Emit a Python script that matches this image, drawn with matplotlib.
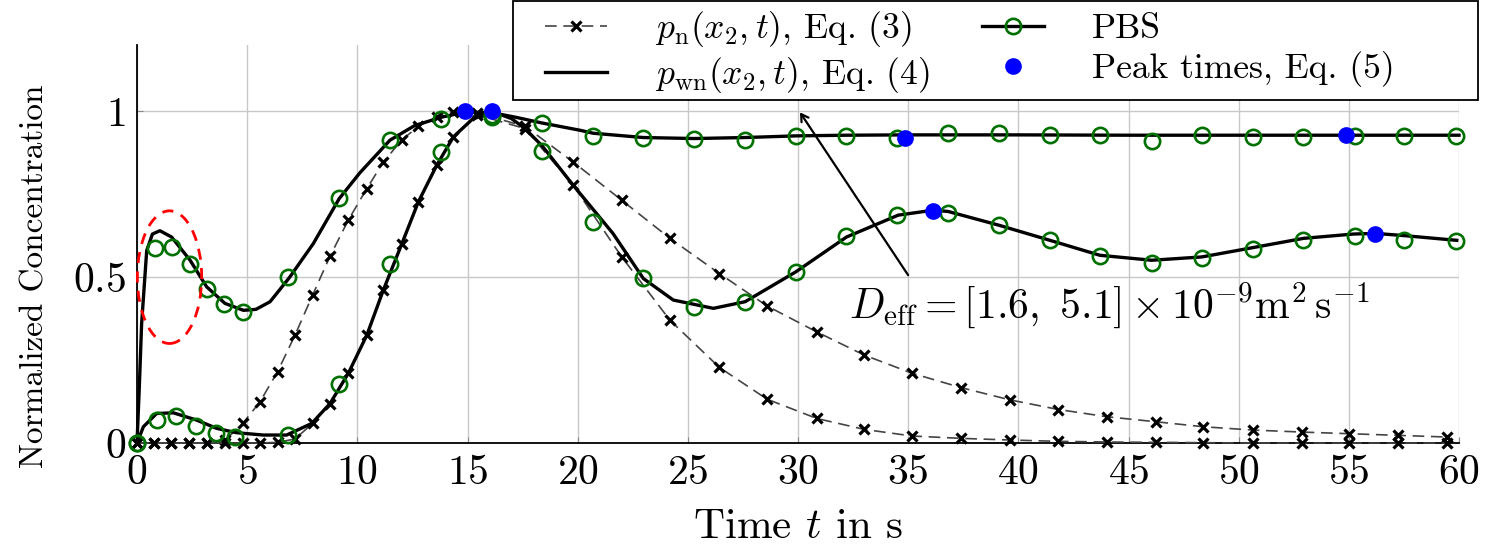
import numpy as np
import matplotlib
matplotlib.use("Agg")
import matplotlib.pyplot as plt
from matplotlib.lines import Line2D
from matplotlib.patches import Ellipse, Rectangle

plt.rcParams['font.family'] = 'serif'
plt.rcParams['font.serif'] = ['cmr10', 'DejaVu Serif']
plt.rcParams['mathtext.fontset'] = 'cm'
plt.rcParams['axes.formatter.use_mathtext'] = True

# ---- data ----
# p_n(x2,t), Eq. (3): two diffusion coefficients (markers on the line)
t_n = [0, 0.77, 1.53, 2.37, 3.19, 3.99, 4.80, 5.58, 6.38, 7.17, 7.97, 8.76, 9.59,
       10.43, 11.18, 12.01, 12.77, 13.6, 14.36, 15.42, 17.61, 19.8, 22.0, 24.19,
       26.43, 28.6, 30.85, 33.01, 35.19, 37.4, 39.62, 41.82, 44.04, 46.25, 48.4,
       50.64, 52.86, 55.03, 57.25, 59.45]
pn_fast = [0, 0, 0, 0, 0, 0.008, 0.059, 0.124, 0.215, 0.325, 0.446, 0.563, 0.672,
           0.767, 0.847, 0.913, 0.955, 0.983, 0.998, 0.995, 0.955, 0.847, 0.732, 0.617,
           0.511, 0.413, 0.335, 0.265, 0.21, 0.167, 0.13, 0.101, 0.079, 0.064, 0.049,
           0.039, 0.033, 0.028, 0.023, 0.018]
pn_slow = [0, 0, 0, 0, 0, 0, 0, 0, 0.002, 0.012, 0.059, 0.119, 0.21,
           0.325, 0.461, 0.599, 0.727, 0.837, 0.923, 0.99, 0.948, 0.777, 0.561, 0.37,
           0.228, 0.132, 0.074, 0.041, 0.021, 0.014, 0.009, 0.005, 0.003, 0.002, 0.001,
           0, 0, 0, 0, 0]

# p_wn(x2,t), Eq. (4)
t_wn1 = [0, 0.1, 0.21, 0.44, 0.7, 1.04, 1.57, 2.41, 3.16, 3.99, 4.83, 5.4, 6.04, 6.92,
         8.0, 9.18, 10.12, 11.48, 12.6, 13.8, 14.9, 16.1, 17.2, 18.37, 20.1, 20.7,
         22.98, 25.3, 27.6, 29.9, 32.2, 35, 40, 45, 50, 55, 60]
pwn1 = [0, 0.16, 0.36, 0.58, 0.63, 0.64, 0.621, 0.551, 0.471, 0.421, 0.40, 0.403,
        0.426, 0.499, 0.601, 0.737, 0.815, 0.913, 0.957, 0.982, 0.998, 0.996, 0.982,
        0.965, 0.943, 0.934, 0.921, 0.918, 0.921, 0.926, 0.928, 0.929, 0.929, 0.928,
        0.928, 0.928, 0.928]
t_wn2 = [0, 0.29, 0.89, 1.65, 2.71, 3.62, 4.52, 5.73, 6.79, 7.93, 8.76, 9.59, 10.43,
         11.18, 12.01, 12.77, 13.6, 14.36, 15.2, 16.1, 17.0, 17.61, 18.4, 19.8, 21.6,
         22.98, 24.34, 26.16, 27.6, 29.9, 32.2, 34.55, 36.14, 36.82, 39.1, 41.44, 43.7,
         46.05, 48.33, 50.64, 52.94, 55.2, 56.2, 57.56, 59.9]
pwn2 = [0, 0.049, 0.089, 0.091, 0.069, 0.044, 0.031, 0.024, 0.024, 0.059, 0.119, 0.21,
        0.325, 0.461, 0.599, 0.727, 0.837, 0.923, 0.975, 1.0, 0.978, 0.948, 0.895, 0.777,
        0.632, 0.496, 0.431, 0.406, 0.426, 0.516, 0.621, 0.687, 0.702, 0.698, 0.657,
        0.611, 0.566, 0.551, 0.561, 0.589, 0.617, 0.63, 0.632, 0.625, 0.611]

# PBS simulation
t_pbs1 = [0, 0.8, 1.6, 2.39, 3.19, 3.97, 4.80, 6.87, 9.18, 11.48, 13.8, 16.1, 18.37,
          20.71, 22.98, 25.3, 27.6, 29.9, 32.2, 34.5, 36.8, 39.1, 41.44, 43.7, 46.05,
          48.33, 50.64, 52.94, 55.27, 57.5, 59.87]
pbs1 = [0, 0.588, 0.592, 0.54, 0.463, 0.418, 0.395, 0.499, 0.738, 0.913, 0.978, 0.99,
        0.965, 0.925, 0.92, 0.918, 0.913, 0.925, 0.925, 0.92, 0.935, 0.935, 0.93, 0.93,
        0.911, 0.93, 0.923, 0.923, 0.926, 0.926, 0.925]
t_pbs2 = [0, 0.89, 1.77, 2.68, 3.59, 4.46, 6.87, 9.18, 11.48, 13.8, 16.1, 18.37, 20.71,
          22.98, 25.3, 27.6, 29.9, 32.2, 34.5, 36.8, 39.1, 41.44, 43.7, 46.05, 48.33,
          50.64, 52.94, 55.27, 57.5, 59.87]
pbs2 = [0, 0.07, 0.081, 0.051, 0.029, 0.019, 0.025, 0.178, 0.54, 0.878, 0.983, 0.879,
        0.667, 0.498, 0.409, 0.426, 0.516, 0.623, 0.687, 0.694, 0.657, 0.611, 0.563,
        0.543, 0.559, 0.586, 0.611, 0.623, 0.613, 0.609]

# Peak times, Eq. (5)
t_peak = [14.89, 16.1, 34.86, 36.14, 54.86, 56.19]
y_peak = [1.0, 1.0, 0.92, 0.70, 0.928, 0.63]

green = '#007000'

fig = plt.figure(figsize=(14.96, 5.57), dpi=100)
ax = fig.add_axes([137/1496, 1 - 443/557, 1322/1496, 398/557])

dash = (0, (7, 4))
for y in (pn_fast, pn_slow):
    ax.plot(t_n, y, ls=dash, color='#444444', lw=1.2, marker='x', ms=7,
            mec='k', mew=2.3, clip_on=False, zorder=3)
for t, y in ((t_wn1, pwn1), (t_wn2, pwn2)):
    ax.plot(t, y, color='k', lw=2.4, clip_on=False, zorder=4)
for t, y in ((t_pbs1, pbs1), (t_pbs2, pbs2)):
    ax.plot(t, y, ls='none', marker='o', ms=11, mfc='none', mec=green, mew=1.9,
            clip_on=False, zorder=5)
ax.plot(t_peak, y_peak, ls='none', marker='o', ms=11, color='#0000ff',
        clip_on=False, zorder=6)

ax.add_patch(Ellipse((1.475, 0.50), 2.92, 0.40, fill=False, ec='red', lw=2,
                     ls=(0, (4, 3)), clip_on=False, zorder=7))

ax.annotate('', xy=(30.09, 0.997), xytext=(35.0, 0.506),
            arrowprops=dict(arrowstyle='->,head_length=0.5,head_width=0.3',
                            lw=1.6, color='k', shrinkA=0, shrinkB=0))
ax.text(32.3, 0.415, r'$D_{\mathrm{eff}} = [1.6,\ 5.1] \times 10^{-9}\mathrm{m}^2\,\mathrm{s}^{-1}$',
        fontsize=30, va='center', ha='left')

ax.set_xlim(0, 60)
ax.set_ylim(0, 1.2)
ax.set_xticks(np.arange(0, 61, 5))
ax.set_yticks([0, 0.5, 1])
ax.set_yticklabels(['$0$', '$0.5$', '$1$'])
ax.set_xticklabels(['$%d$' % v for v in range(0, 61, 5)])
ax.tick_params(labelsize=30, direction='in', length=4, color='#888888', pad=8)
ax.grid(True, color='#c8c8c8', lw=1.0)
ax.set_axisbelow(True)
for s in ('top', 'right'):
    ax.spines[s].set_visible(False)
for s in ('left', 'bottom'):
    ax.spines[s].set_linewidth(1.3)

ax.set_xlabel(r'Time $t$ in s', fontsize=31)
ax.set_ylabel('Normalized Concentration', fontsize=24)
ax.xaxis.set_label_coords(0.5, -0.165)
ax.yaxis.set_label_coords(-0.066, 0.42)

handles = [
    Line2D([], [], ls=dash, color='#444444', lw=1.2, marker='x', ms=7, mec='k', mew=2.3),
    Line2D([], [], color='k', lw=2.4),
    Line2D([], [], color='k', lw=2.4, marker='o', ms=11, mfc='none', mec=green, mew=1.9),
    Line2D([], [], ls='none', marker='o', ms=11, color='#0000ff'),
]
labels = [r'$p_{\mathrm{n}}(x_2, t)$, Eq. (3)', r'$p_{\mathrm{wn}}(x_2, t)$, Eq. (4)',
          'PBS', 'Peak times, Eq. (5)']

# legend frame drawn separately (box wider on the right than the content)
fig.patches.append(Rectangle((513/1496, 1 - 100/557), 965/1496, 100/557 - 0.002,
                             transform=fig.transFigure, fc='white', ec='k', lw=1.3,
                             zorder=4))
leg = fig.legend(handles, labels, ncol=2, fontsize=25.6, loc='upper left',
                 bbox_to_anchor=(545/1496, 1 - 9/557), frameon=False,
                 handlelength=1.75, handletextpad=1.35, labelspacing=0.18,
                 columnspacing=1.45, borderpad=0, borderaxespad=0)
leg.set_zorder(5)

fig.savefig('out.png', dpi=100)
